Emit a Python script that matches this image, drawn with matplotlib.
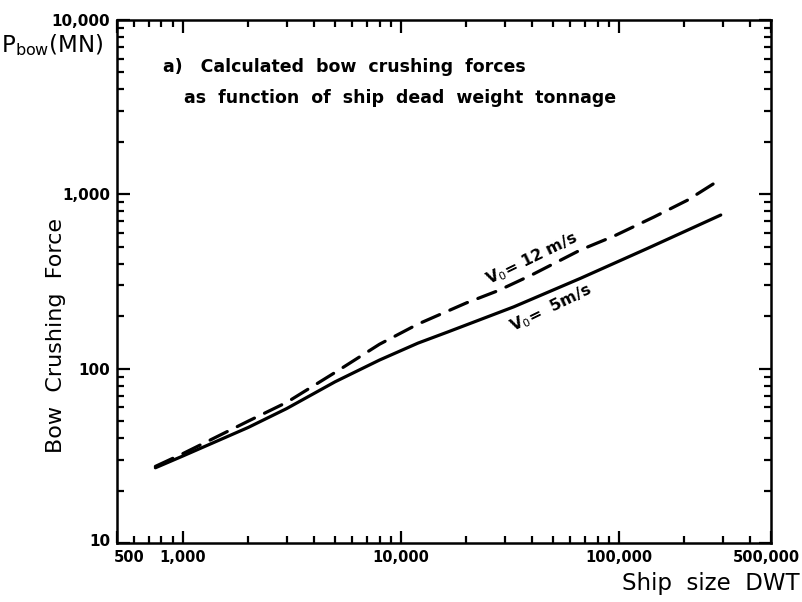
import numpy as np
import matplotlib
matplotlib.use("Agg")
import matplotlib.pyplot as plt
from matplotlib.ticker import FixedLocator, NullFormatter, LogLocator
from matplotlib.transforms import ScaledTranslation

# --- data (DWT vs bow crushing force, MN) ---
dwt_12 = [750, 1000, 2000, 3000, 5000, 8000, 12000, 20000, 28000, 40000, 67000, 95000, 145000, 207000, 294000]
force_12 = [27.5, 32.5, 50, 64, 95, 138, 180, 238, 280, 345, 480, 575, 740, 925, 1220]

dwt_5 = [750, 1000, 2000, 3000, 5000, 8000, 12000, 16400, 33000, 67000, 136000, 294000]
force_5 = [27, 31.5, 46, 59, 84, 112, 140, 162, 226, 330, 490, 760]

x_ticks = [500, 1000, 10000, 100000, 500000]
x_labels = ["500", "1,000", "10,000", "100,000", "500,000"]
y_ticks = [10, 100, 1000, 10000]
y_labels = ["10", "100", "1,000", "10,000"]

plt.rcParams['font.family'] = ['DejaVu Sans']

fig = plt.figure(figsize=(8.03, 6.02), dpi=100)
ax = fig.add_axes([0.1457, 0.098, 0.8145, 0.869])

ax.plot(dwt_5, force_5, color="black", lw=2.3, solid_capstyle="round")
ax.plot(dwt_12, force_12, color="black", lw=2.3, dashes=[6, 3.5], dash_capstyle="round")

ax.set_xscale("log")
ax.set_yscale("log")
ax.set_xlim(500, 500000)
ax.set_ylim(10, 10000)

# ticks
ax.xaxis.set_major_locator(FixedLocator(x_ticks))
ax.set_xticklabels(x_labels, fontsize=10.5, fontweight="bold")
ax.xaxis.set_minor_locator(LogLocator(base=10, subs=np.arange(2, 10)))
ax.xaxis.set_minor_formatter(NullFormatter())
ax.yaxis.set_major_locator(FixedLocator(y_ticks))
ax.set_yticklabels(y_labels, fontsize=11, fontweight="bold")
ax.yaxis.set_minor_locator(LogLocator(base=10, subs=np.arange(2, 10)))
ax.yaxis.set_minor_formatter(NullFormatter())

ax.tick_params(which="both", direction="in", top=True, right=True, width=1.6, colors="black")
ax.tick_params(which="major", length=9, pad=5)
ax.tick_params(which="minor", length=5)
for s in ax.spines.values():
    s.set_linewidth(1.8)

# nudge the end labels like in the original drawing
xl = ax.get_xticklabels()
xl[0].set_transform(xl[0].get_transform() + ScaledTranslation(9 / 72, 0, fig.dpi_scale_trans))
xl[-1].set_transform(xl[-1].get_transform() + ScaledTranslation(-3 / 72, 0, fig.dpi_scale_trans))
yl = ax.get_yticklabels()
yl[0].set_transform(yl[0].get_transform() + ScaledTranslation(0, 2 / 72, fig.dpi_scale_trans))

# labels
fig.text(0.001, 0.925, r"P$_{\mathrm{bow}}$(MN)", fontsize=16.5, ha="left", va="center")
fig.text(0.070, 0.443, "Bow  Crushing  Force", fontsize=16, rotation=90, ha="center", va="center")
fig.text(0.996, 0.031, "Ship  size  DWT", fontsize=16.5, ha="right", va="center")

ax.text(0.07, 0.91, "a)   Calculated  bow  crushing  forces", transform=ax.transAxes,
        fontsize=12.5, fontweight="bold", ha="left", va="center")
ax.text(0.103, 0.85, "as  function  of  ship  dead  weight  tonnage", transform=ax.transAxes,
        fontsize=12.5, fontweight="bold", ha="left", va="center")

ax.annotate(r"V$_0$= 12 m/s", xy=(40000, 430), fontsize=11.5, fontweight="bold",
            rotation=26, ha="center", va="center")
ax.annotate(r"V$_0$=  5m/s", xy=(48800, 223), fontsize=11.5, fontweight="bold",
            rotation=26, ha="center", va="center")

fig.savefig("out.png", dpi=100)
plt.close(fig)
